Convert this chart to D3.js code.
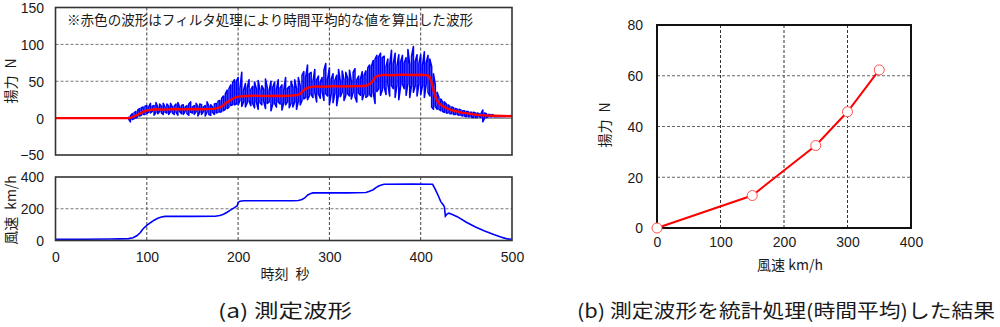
<!DOCTYPE html>
<html><head><meta charset="utf-8">
<script src="https://cdn.jsdelivr.net/npm/d3@7"></script>
<style>
body{margin:0;background:#fff}
text{font-family:"Liberation Sans",Arial,sans-serif;fill:#1a1a1a}
.jp{font-family:"Noto Sans CJK JP","Noto Sans",sans-serif}
</style>
</head><body>
<svg id="c" width="1000" height="327"></svg>
<script>
// ---------------- DATA ----------------
// (a) top: lift force waveform (N). Blue raw signal sampled every 2 s from 80 s to 480 s: upper / lower excursions
const blueStart = 80, blueStep = 2;
const blueHi = [
 1,3,6,7,9,11,13,14,15,16,
 17,15,20,16,17,21,15,19,16,20,
 15,19,16,20,15,16,19,21,15,17,
 18,15,17,19,22,15,17,20,16,19,
 18,15,17,22,16,18,15,19,20,23,
 24,27,30,33,38,40,45,48,52,50,
 55,40,62,38,47,41,52,39,43,49,
 40,51,38,44,39,53,41,37,50,42,
 49,39,52,41,45,38,55,40,43,50,
 42,52,40,55,44,58,63,55,72,60,
 62,50,66,52,57,49,55,65,74,53,
 68,53,60,51,58,66,50,64,52,62,
 54,65,50,62,67,52,57,53,63,58,
 64,68,72,70,78,80,85,83,88,82,
 84,70,80,72,92,74,88,71,86,76,
 85,75,82,93,73,84,97,77,86,74,
 86,72,90,75,85,80,70,60,45,35,
 28,26,22,22,19,18,16,15,14,13,
 12,12,11,10,10,9,9,8,8,8,
 7,7,6,6,11,7,6,5,5,5,
 4];
const blueLo = [
 -1,-5,-2,-1,0,2,3,4,5,5,
 6,8,7,9,4,8,6,9,7,5,
 8,7,5,9,7,5,8,4,9,6,
 5,9,6,4,8,7,5,9,3,8,
 5,9,3,8,5,4,8,5,7,8,
 8,9,10,12,13,15,17,18,18,19,
 18,24,16,22,15,21,23,17,20,14,
 22,12,21,18,23,13,20,22,10,19,
 20,15,22,19,11,21,18,22,14,20,
 15,22,12,23,18,24,26,28,25,30,
 32,28,35,22,33,27,36,24,33,30,
 18,33,21,34,17,32,29,35,24,31,
 33,30,26,35,29,22,34,31,25,33,
 28,30,32,29,35,20,36,40,31,38,
 42,32,46,30,44,40,28,45,25,43,
 46,40,31,47,28,45,35,44,30,46,
 32,44,28,46,35,30,15,12,16,12,
 12,10,9,8,7,7,6,6,5,5,
 5,4,4,3,3,2,2,2,1,1,
 1,1,2,1,-5,0,1,2,2,2,
 2];
// Red filtered (time-averaged) waveform
const redTime = [0,80,82,86,89,93,96,100,103,110,120,130,140,150,160,165,173,177,180,184,187,191,195,198,202,210,220,230,240,250,258,264,266,268,271,273,276,279,285,295,305,315,325,339,342,345,348,350,353,356,360,370,380,390,400,408,410,412,414,416,418,420,425,430,436,445,451,458,465,472,480,490,500];
const redVal  = [0,0,0.5,2.5,4,6.5,8.6,10.5,11,12,11.5,12.3,11.8,12.4,12,12.2,12.5,13.5,14.5,17.5,21,24,27,28.5,29.5,30,30.5,29.8,30.4,30,30.5,31,32,33,36.5,39,41,42,43,42.6,43.4,42.8,43.2,43.5,45,47,51,55.5,57.5,58,58.6,58.2,59,58.4,58.8,58,55,48,38,29,23.5,20,15.5,12.5,10,7.5,6.4,5,4,3.5,3.2,2.9,2.7];
// Bottom: wind speed (km/h)
const windTime = [0,30,60,70,80,85,89,93,96,100,104,108,112,116,120,150,175,180,184,188,192,196,198,199,200,202,206,230,260,266,270,273,276,279,282,290,320,340,344,348,351,354,357,360,390,413,416,419,422,425,426,427,429,431,434,440,450,460,470,480,490,495,500];
const windVal  = [8,8,9,10,12,17,30,50,74,95,112,128,140,148,152,152,153,157,165,178,193,207,215,218,240,247,250,250,250,252,258,268,285,295,300,300,300,302,310,320,333,343,350,354,355,354,322,285,245,222,210,153,168,172,165,150,115,85,60,38,18,10,8];
// (b) time-averaged result
const speedKmh = [0,150,250,300,350];
const liftN    = [0,12.8,32.5,45.8,62.3];
// tick labels
const topYTicks = [-50,0,50,100,150];
const botYTicks = [0,200,400];
const timeTicks = [0,100,200,300,400,500];
const rXTicks = [0,100,200,300,400];
const rYTicks = [0,20,40,60,80];

// ---------------- DRAW ----------------
const svg = d3.select("#c");
const X0 = 55.5, X1 = 512;
const xT = d3.scaleLinear().domain([0,500]).range([X0,X1]);
const yTop = d3.scaleLinear().domain([-50,150]).range([155,7.5]);
const yBot = d3.scaleLinear().domain([0,400]).range([240.5,177]);
const xR = d3.scaleLinear().domain([0,400]).range([657,911]);
const yR = d3.scaleLinear().domain([0,80]).range([228,25]);

const defs = svg.append("defs");
defs.append("clipPath").attr("id","clipTop").append("rect")
  .attr("x",X0).attr("y",yTop(150)).attr("width",X1-X0).attr("height",yTop(-50)-yTop(150));
defs.append("clipPath").attr("id","clipBot").append("rect")
  .attr("x",X0).attr("y",yBot(400)).attr("width",X1-X0).attr("height",yBot(0)-yBot(400));

function vgrid(g, xs, vals, y0, y1, col){
  g.selectAll(null).data(vals).enter().append("line")
    .attr("x1",d=>xs(d)).attr("x2",d=>xs(d)).attr("y1",y0).attr("y2",y1)
    .attr("stroke",col).attr("stroke-width",1).attr("stroke-dasharray","3,2");
}
function hgrid(g, ys, vals, x0, x1, col){
  g.selectAll(null).data(vals).enter().append("line")
    .attr("y1",d=>ys(d)).attr("y2",d=>ys(d)).attr("x1",x0).attr("x2",x1)
    .attr("stroke",col).attr("stroke-width",1).attr("stroke-dasharray","3,2");
}
function yAxis(ys, vals, x){
  const g = svg.append("g").attr("transform",`translate(${x},0)`)
    .call(d3.axisLeft(ys).tickValues(vals).tickSize(0).tickPadding(0).tickFormat(d=>d<0?"\u2212"+(-d):d));
  g.select(".domain").remove();
  g.selectAll("text").attr("font-size",14).attr("font-family","Liberation Sans, Arial, sans-serif").attr("fill","#1a1a1a");
  return g;
}
function xAxis(xs, vals, y){
  const g = svg.append("g").attr("transform",`translate(0,${y})`)
    .call(d3.axisBottom(xs).tickValues(vals).tickSize(0).tickPadding(0));
  g.select(".domain").remove();
  g.selectAll("text").attr("font-size",14).attr("font-family","Liberation Sans, Arial, sans-serif").attr("fill","#1a1a1a");
  return g;
}

// ---- top plot ----
const gT = svg.append("g");
vgrid(gT, xT, [100,200,300,400], yTop(150), yTop(-50), "#444");
hgrid(gT, yTop, [50,100], X0, X1, "#777");
gT.append("line").attr("x1",X0).attr("x2",X1).attr("y1",yTop(0)).attr("y2",yTop(0)).attr("stroke","#555").attr("stroke-width",1);

// blue raw path: zig-zag hi/lo per sample
const bluePts = [[0,0],[blueStart,0]];
blueHi.forEach((h,i)=>{
  const t = blueStart + i*blueStep;
  if(i%2===0){ bluePts.push([t,h]); bluePts.push([t,blueLo[i]]); }
  else { bluePts.push([t,blueLo[i]]); bluePts.push([t,h]); }
});
bluePts.push([500,2.7]);
const lineTop = d3.line().x(d=>xT(d[0])).y(d=>yTop(d[1]));
gT.append("path").attr("clip-path","url(#clipTop)").attr("d",lineTop(bluePts))
  .attr("fill","none").attr("stroke","#0000ff").attr("stroke-width",1.6).attr("stroke-linejoin","round");
gT.append("path").attr("clip-path","url(#clipTop)").attr("d",lineTop(redTime.map((t,i)=>[t,redVal[i]])))
  .attr("fill","none").attr("stroke","#ff0000").attr("stroke-width",2.4).attr("stroke-linejoin","round");
gT.append("rect").attr("x",X0).attr("y",yTop(150)).attr("width",X1-X0).attr("height",yTop(-50)-yTop(150))
  .attr("fill","none").attr("stroke","#333").attr("stroke-width",1.6);
yAxis(yTop, topYTicks, 44).selectAll("text").attr("dy","0.35em");
svg.append("text").attr("class","jp").attr("x",67).attr("y",25).attr("font-size",13.5)
  .attr("textLength",406).attr("lengthAdjust","spacingAndGlyphs")
  .text("※赤色の波形はフィルタ処理により時間平均的な値を算出した波形");
svg.append("text").attr("class","jp").attr("transform","translate(16,81) rotate(-90)")
  .attr("text-anchor","middle").attr("font-size",14).text("揚力\u2002N");

// ---- bottom plot ----
const gB = svg.append("g");
vgrid(gB, xT, [100,200,300,400], yBot(400), yBot(0), "#444");
hgrid(gB, yBot, [200], X0, X1, "#777");
gB.append("path").attr("clip-path","url(#clipBot)")
  .attr("d", d3.line().x(d=>xT(d[0])).y(d=>yBot(d[1]))(windTime.map((t,i)=>[t,windVal[i]])))
  .attr("fill","none").attr("stroke","#0000ff").attr("stroke-width",1.6);
gB.append("rect").attr("x",X0).attr("y",yBot(400)).attr("width",X1-X0).attr("height",yBot(0)-yBot(400))
  .attr("fill","none").attr("stroke","#333").attr("stroke-width",1.6);
yAxis(yBot, botYTicks, 44).selectAll("text").attr("dy","0.35em");
xAxis(xT, timeTicks, 251).selectAll("text").attr("dy","0.75em");
svg.append("text").attr("class","jp").attr("transform","translate(16,210) rotate(-90)")
  .attr("text-anchor","middle").attr("font-size",14).text("風速\u2002km/h");
svg.append("text").attr("class","jp").attr("x",285).attr("y",279).attr("text-anchor","middle")
  .attr("font-size",14).text("時刻\u2002秒");

// ---- right plot ----
const gR = svg.append("g");
vgrid(gR, xR, [100,200,300], yR(80), yR(0), "#333");
hgrid(gR, yR, [20,40,60], xR(0), xR(400), "#666");
gR.append("rect").attr("x",xR(0)).attr("y",yR(80)).attr("width",xR(400)-xR(0)).attr("height",yR(0)-yR(80))
  .attr("fill","none").attr("stroke","#111").attr("stroke-width",2);
const pts = speedKmh.map((s,i)=>[s,liftN[i]]);
gR.append("path").attr("d", d3.line().x(d=>xR(d[0])).y(d=>yR(d[1]))(pts))
  .attr("fill","none").attr("stroke","#ff0000").attr("stroke-width",2);
gR.selectAll("circle").data(pts).enter().append("circle")
  .attr("cx",d=>xR(d[0])).attr("cy",d=>yR(d[1])).attr("r",5)
  .attr("fill","#fff").attr("stroke","#ff5050").attr("stroke-width",1);
yAxis(yR, rYTicks, 643).selectAll("text").attr("dy","0.35em");
xAxis(xR, rXTicks, 236).selectAll("text").attr("dy","0.75em");
svg.append("text").attr("class","jp").attr("transform","translate(610,125) rotate(-90)")
  .attr("text-anchor","middle").attr("font-size",14).text("揚力\u2002N");
svg.append("text").attr("class","jp").attr("x",790).attr("y",270).attr("text-anchor","middle")
  .attr("font-size",14).text("風速 km/h");

// ---- captions ----
svg.append("text").attr("class","jp").attr("x",218).attr("y",318).attr("font-size",19)
  .attr("textLength",134).attr("lengthAdjust","spacingAndGlyphs").text("(a) 測定波形");
svg.append("text").attr("class","jp").attr("x",577).attr("y",318).attr("font-size",19)
  .attr("textLength",418).attr("lengthAdjust","spacingAndGlyphs").text("(b) 測定波形を統計処理(時間平均)した結果");
</script>
</body></html>
